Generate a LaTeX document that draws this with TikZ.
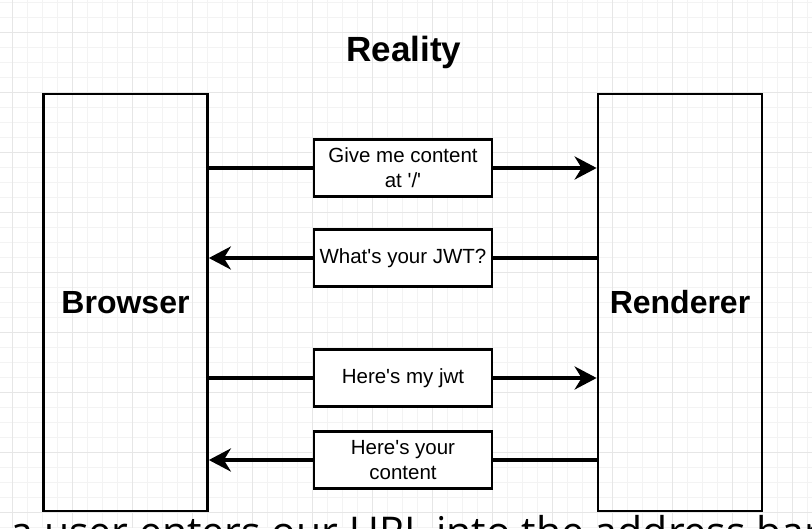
\documentclass[tikz,border=0pt]{standalone}
\usepackage{fontspec}
\setmainfont{Liberation Sans}
\newfontfamily\captionfont{Open Sans}
\usetikzlibrary{arrows.meta}
\definecolor{gridminor}{HTML}{F3F3F3}
\definecolor{gridmajor}{HTML}{E6E6E6}
\newcommand{\sq}{\textquotesingle}
\tikzset{
  actor/.style={draw=black, line width=2.7pt, minimum width=164pt, minimum height=417pt, inner sep=0pt, font=\fontsize{32}{38}\selectfont\bfseries},
  msgbox/.style={draw=black, fill=white, line width=2.7pt, minimum width=178pt, minimum height=57pt, inner sep=0pt, align=center, font=\fontsize{20.5}{25}\selectfont},
  msgline/.style={line width=4pt},
  tipped/.style={msgline, -{Stealth[length=22pt, width=23pt, inset=7pt]}},
}
\begin{document}
\begin{tikzpicture}[x=1pt, y=-1pt]
\useasboundingbox (0,0) rectangle (812,528);
\clip (0,0) rectangle (812,528);
\fill[white] (0,0) rectangle (812,528);
% grid
\foreach \gx in {-2.5,12.5,...,812} \draw[gridminor, line width=0.8pt] (\gx,0) -- (\gx,528);
\foreach \gy in {2,17,...,528} \draw[gridminor, line width=0.8pt] (0,\gy) -- (812,\gy);
\foreach \gx in {12.5,72.5,...,812} \draw[gridmajor, line width=0.8pt] (\gx,0) -- (\gx,528);
\foreach \gy in {32,92,...,528} \draw[gridmajor, line width=0.8pt] (0,\gy) -- (812,\gy);
% title
\node[anchor=base, inner sep=0pt, font=\fontsize{35}{42}\selectfont\bfseries] (title) at (404,61) {Reality};
% actors
\node[actor] (browser) at (125.5,302.5) {Browser};
\node[actor] (renderer) at (680,302.5) {Renderer};
% messages
\node[msgbox] (m1) at (403,168) {Give me content\\at \sq/\sq};
\node[msgbox] (m2) at (403,258) {What\sq s your JWT?};
\node[msgbox] (m3) at (403,378) {Here\sq s my jwt};
\node[msgbox] (m4) at (403,460) {Here\sq s your\\content};
% connectors
\draw[msgline] (m1.west -| browser.east) -- (m1.west);
\draw[tipped] (m1.east) -- (m1.east -| renderer.west);
\draw[msgline] (m2.east -| renderer.west) -- (m2.east);
\draw[tipped] (m2.west) -- (m2.west -| browser.east);
\draw[msgline] (m3.west -| browser.east) -- (m3.west);
\draw[tipped] (m3.east) -- (m3.east -| renderer.west);
\draw[msgline] (m4.east -| renderer.west) -- (m4.east);
\draw[tipped] (m4.west) -- (m4.west -| browser.east);
% caption (cut off at bottom, as in the reference)
\node[anchor=base west, inner sep=0pt, font=\captionfont\fontsize{41}{48}\selectfont, text=black] (caption) at (10.5,546) {a user enters our URL into the address bar};
\end{tikzpicture}
\end{document}
